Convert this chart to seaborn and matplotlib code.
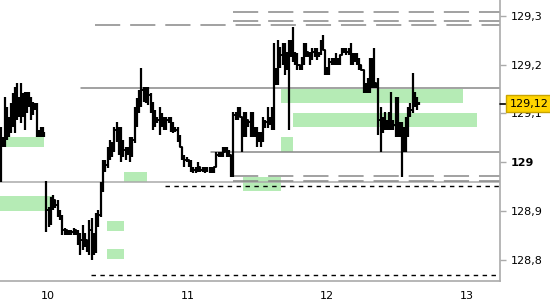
import numpy as np
import pandas as pd
import matplotlib
matplotlib.use("Agg")
import matplotlib.pyplot as plt
import matplotlib.transforms as mtrans
from matplotlib.patches import Rectangle
import seaborn as sns

# ---------------- data ----------------
# price bars: three runs of evenly spaced bars (start day, end day, count)
seg_start = [9.666, 9.991, 11.161]
seg_end = [9.977, 11.140, 12.656]
seg_count = [23, 72, 99]

bar_high = [
    # run A
    129.072, 129.052, 129.134, 129.113, 129.093, 129.121, 129.142, 129.154, 129.162, 129.134,
    129.162, 129.142, 129.144, 129.144, 129.144, 129.134, 129.123, 129.121, 129.121, 129.066,
    129.072, 129.072, 129.062,
    # run B
    128.962, 128.909, 128.929, 128.933, 128.923, 128.923, 128.902, 128.892, 128.866, 128.862,
    128.862, 128.862, 128.866, 128.862, 128.862, 128.855, 128.872, 128.855, 128.841, 128.882,
    128.886, 128.855, 128.896, 128.902, 128.960, 129.005, 129.005, 129.031, 129.046, 129.042,
    129.072, 129.083, 129.072, 129.072, 129.046, 129.031, 129.031, 129.052, 129.052, 129.113,
    129.132, 129.148, 129.193, 129.154, 129.154, 129.154, 129.142, 129.123, 129.107, 129.093,
    129.113, 129.101, 129.093, 129.093, 129.093, 129.093, 129.083, 129.072, 129.072, 129.056,
    129.031, 129.015, 129.011, 129.005, 129.005, 128.990, 128.990, 129.001, 128.990, 128.990,
    128.990, 128.990,
    # run C
    128.990, 128.990, 128.990, 129.021, 129.021, 129.021, 129.031, 129.031, 129.031, 129.025,
    129.015, 129.103, 129.103, 129.113, 129.113, 129.093, 129.103, 129.103, 129.087, 129.103,
    129.103, 129.072, 129.072, 129.062, 129.062, 129.093, 129.087, 129.113, 129.093, 129.113,
    129.244, 129.193, 129.250, 129.236, 129.244, 129.244, 129.226, 129.250, 129.250, 129.277,
    129.226, 129.224, 129.199, 129.216, 129.244, 129.244, 129.226, 129.226, 129.234, 129.234,
    129.234, 129.226, 129.250, 129.261, 129.230, 129.195, 129.214, 129.214, 129.214, 129.224,
    129.214, 129.220, 129.234, 129.234, 129.234, 129.234, 129.244, 129.224, 129.224, 129.224,
    129.214, 129.199, 129.189, 129.162, 129.173, 129.214, 129.214, 129.234, 129.162, 129.173,
    129.113, 129.093, 129.103, 129.087, 129.103, 129.144, 129.087, 129.134, 129.134, 129.083,
    129.083, 129.072, 129.093, 129.113, 129.121, 129.183, 129.144, 129.134, 129.123,
]
bar_low = [
    # run A
    128.960, 129.031, 129.031, 129.046, 129.052, 129.060, 129.072, 129.060, 129.087, 129.093,
    129.081, 129.093, 129.066, 129.101, 129.113, 129.087, 129.097, 129.107, 129.052, 129.052,
    129.052, 129.052, 129.052,
    # run B
    128.857, 128.868, 128.872, 128.902, 128.907, 128.888, 128.882, 128.851, 128.851, 128.851,
    128.851, 128.851, 128.851, 128.851, 128.831, 128.810, 128.821, 128.827, 128.817, 128.810,
    128.800, 128.810, 128.814, 128.868, 128.888, 128.939, 128.980, 128.988, 129.005, 129.011,
    129.021, 129.042, 129.015, 129.001, 129.011, 129.005, 129.015, 129.001, 129.011, 129.040,
    129.072, 129.101, 129.113, 129.123, 129.121, 129.117, 129.101, 129.066, 129.072, 129.081,
    129.056, 129.072, 129.066, 129.066, 129.081, 129.062, 129.060, 129.062, 129.042, 129.031,
    129.005, 128.990, 129.001, 128.990, 128.980, 128.978, 128.978, 128.980, 128.980, 128.980,
    128.978, 128.980,
    # run C
    128.978, 128.978, 128.978, 128.990, 129.011, 129.011, 129.011, 129.021, 129.011, 129.011,
    128.970, 128.970, 129.087, 129.087, 129.093, 129.021, 129.052, 129.052, 129.072, 129.052,
    129.052, 129.052, 129.031, 129.042, 129.031, 129.042, 129.070, 129.070, 129.076, 129.066,
    129.066, 129.158, 129.158, 129.193, 129.199, 129.179, 129.189, 129.066, 129.216, 129.205,
    129.199, 129.189, 129.189, 129.189, 129.199, 129.216, 129.216, 129.199, 129.209, 129.216,
    129.209, 129.216, 129.220, 129.230, 129.179, 129.179, 129.179, 129.199, 129.199, 129.199,
    129.199, 129.199, 129.220, 129.224, 129.220, 129.220, 129.199, 129.199, 129.205, 129.199,
    129.189, 129.189, 129.142, 129.142, 129.142, 129.142, 129.152, 129.152, 129.152, 129.056,
    129.021, 129.060, 129.066, 129.066, 129.066, 129.066, 129.066, 129.052, 129.052, 129.052,
    128.970, 129.021, 129.021, 129.052, 129.093, 129.101, 129.113, 129.107, 129.117,
]
bar_close = [
    # run A
    129.046, 129.046, 129.107, 129.076, 129.076, 129.107, 129.128, 129.128, 129.128, 129.117,
    129.128, 129.117, 129.128, 129.138, 129.130, 129.117, 129.117, 129.117, 129.056, 129.056,
    129.070, 129.056, 129.056,
    # run B
    128.902, 128.892, 128.923, 128.923, 128.913, 128.898, 128.888, 128.862, 128.862, 128.857,
    128.857, 128.857, 128.862, 128.857, 128.851, 128.841, 128.851, 128.841, 128.831, 128.862,
    128.841, 128.841, 128.882, 128.892, 128.954, 128.995, 128.995, 129.025, 129.035, 129.035,
    129.066, 129.066, 129.046, 129.035, 129.025, 129.025, 129.025, 129.035, 129.046, 129.097,
    129.117, 129.128, 129.148, 129.148, 129.138, 129.138, 129.117, 129.097, 129.087, 129.087,
    129.097, 129.087, 129.083, 129.087, 129.087, 129.076, 129.070, 129.066, 129.046, 129.031,
    129.011, 129.005, 129.005, 129.001, 128.988, 128.984, 128.984, 128.990, 128.984, 128.984,
    128.984, 128.984,
    # run C
    128.984, 128.984, 128.990, 129.015, 129.015, 129.019, 129.021, 129.025, 129.021, 129.015,
    128.984, 129.097, 129.097, 129.103, 129.093, 129.066, 129.076, 129.087, 129.083, 129.076,
    129.066, 129.066, 129.056, 129.050, 129.056, 129.076, 129.083, 129.087, 129.087, 129.097,
    129.185, 129.179, 129.230, 129.220, 129.230, 129.209, 129.209, 129.230, 129.240, 129.220,
    129.209, 129.199, 129.195, 129.209, 129.230, 129.226, 129.220, 129.220, 129.226, 129.220,
    129.220, 129.224, 129.240, 129.230, 129.192, 129.189, 129.205, 129.205, 129.209, 129.209,
    129.205, 129.220, 129.226, 129.230, 129.226, 129.230, 129.220, 129.214, 129.214, 129.209,
    129.199, 129.189, 129.158, 129.152, 129.158, 129.158, 129.162, 129.162, 129.158, 129.087,
    129.066, 129.076, 129.076, 129.076, 129.087, 129.076, 129.076, 129.107, 129.066, 129.066,
    129.056, 129.046, 129.076, 129.097, 129.107, 129.128, 129.128, 129.121, 129.120,
]

# zones (day from, day to, price low, price high)
zone_x0 = [9.659, 9.659, 10.546, 10.424, 10.424, 11.397, 11.669, 11.669, 11.755]
zone_x1 = [9.974, 10.031, 10.710, 10.546, 10.546, 11.669, 11.755, 12.970, 13.071]
zone_lo = [129.031, 128.901, 128.960, 128.860, 128.802, 128.941, 129.021, 129.121, 129.072]
zone_hi = [129.052, 128.931, 128.980, 128.880, 128.823, 128.970, 129.052, 129.150, 129.101]

# horizontal levels (price, start day)
solid_level = [129.152, 129.021]
solid_from = [10.238, 11.168]
full_level = [128.960]
longdash_level = [129.308, 129.289, 129.281, 128.972, 128.962]
longdash_from = [11.325, 11.325, 10.338, 11.325, 11.325]
shortdash_level = [128.951, 128.770]
shortdash_from = [10.840, 10.310]

last_price = 129.12
last_label = "129,12"
x_ticks = [10, 11, 12, 13]
x_labels = ["10", "11", "12", "13"]
y_ticks = [128.8, 128.9, 129.0, 129.1, 129.2, 129.3]
y_labels = ["128,8", "128,9", "129", "129,1", "129,2", "129,3"]

# ---------------- plot ----------------
sns.set_theme(style="white")
plt.rcParams["font.family"] = ["DejaVu Sans"]

fig = plt.figure(figsize=(5.5, 3), dpi=100)
ax = fig.add_axes([0, 19 / 300, 500 / 550, 281 / 300])
XMIN, XMAX = 9.6588, 13.2354
ax.set_xlim(XMIN, XMAX)
ax.set_ylim(128.7571, 129.332)

# zones
for x0, x1, lo, hi in zip(zone_x0, zone_x1, zone_lo, zone_hi):
    ax.add_patch(Rectangle((x0, lo), x1 - x0, hi - lo, facecolor="#b5ebb5",
                           edgecolor="none", zorder=1))

# levels
for y in full_level:
    ax.plot([XMIN, XMAX], [y, y], color="#aaaaaa", lw=1.1, zorder=2)
for y, x0 in zip(solid_level, solid_from):
    ax.plot([x0, XMAX], [y, y], color="#888888", lw=1.1, zorder=2)
for y, x0 in zip(longdash_level, longdash_from):
    ax.plot([x0, XMAX], [y, y], color="#888888", lw=1.1, dashes=(16.5, 6.5), zorder=2)
for y, x0 in zip(shortdash_level, shortdash_from):
    ax.plot([x0, XMAX], [y, y], color="black", lw=1.0, dashes=(3.2, 3.2), zorder=2)

# bars
times, seg_id = [], []
for i, (a, b, n) in enumerate(zip(seg_start, seg_end, seg_count)):
    times.extend(np.linspace(a, b, n))
    seg_id.extend([i] * n)
df = pd.DataFrame({"t": times, "high": bar_high, "low": bar_low,
                   "close": bar_close, "seg": seg_id})
ax.vlines(df["t"], df["low"], df["high"], color="black", lw=1.6, zorder=3)
sns.lineplot(data=df, x="t", y="close", units="seg", estimator=None, sort=False,
             drawstyle="steps-post", color="black", lw=1.4, ax=ax, zorder=3,
             legend=False)

# axes styling
for s in ["left", "top"]:
    ax.spines[s].set_visible(False)
for s in ["right", "bottom"]:
    ax.spines[s].set_color("#aaaaaa")
    ax.spines[s].set_linewidth(1.2)
ax.yaxis.tick_right()
ax.set_yticks(y_ticks)
ax.set_yticklabels(y_labels)
ax.set_xticks(x_ticks)
ax.set_xticklabels(x_labels)
ax.tick_params(axis="both", colors="#aaaaaa", labelcolor="black", length=4,
               width=1, labelsize=8, pad=3)
ax.tick_params(axis="y", pad=4)
for lab in ax.get_yticklabels():
    if lab.get_text() == "129":
        lab.set_fontweight("bold")
ax.set_xlabel("")
ax.set_ylabel("")
ax.grid(False)

# last price marker
trans = mtrans.blended_transform_factory(ax.transAxes, ax.transData)
ax.plot([1.0, 1.012], [last_price, last_price], color="black", lw=1.2,
        transform=trans, clip_on=False, zorder=4)
ax.text(1.019, last_price, last_label, transform=trans, ha="left", va="center",
        fontsize=8, color="black", zorder=5,
        bbox=dict(boxstyle="square,pad=0.3", fc="#FFD400", ec="#C9A400", lw=1))

fig.savefig("out.png", dpi=100)
